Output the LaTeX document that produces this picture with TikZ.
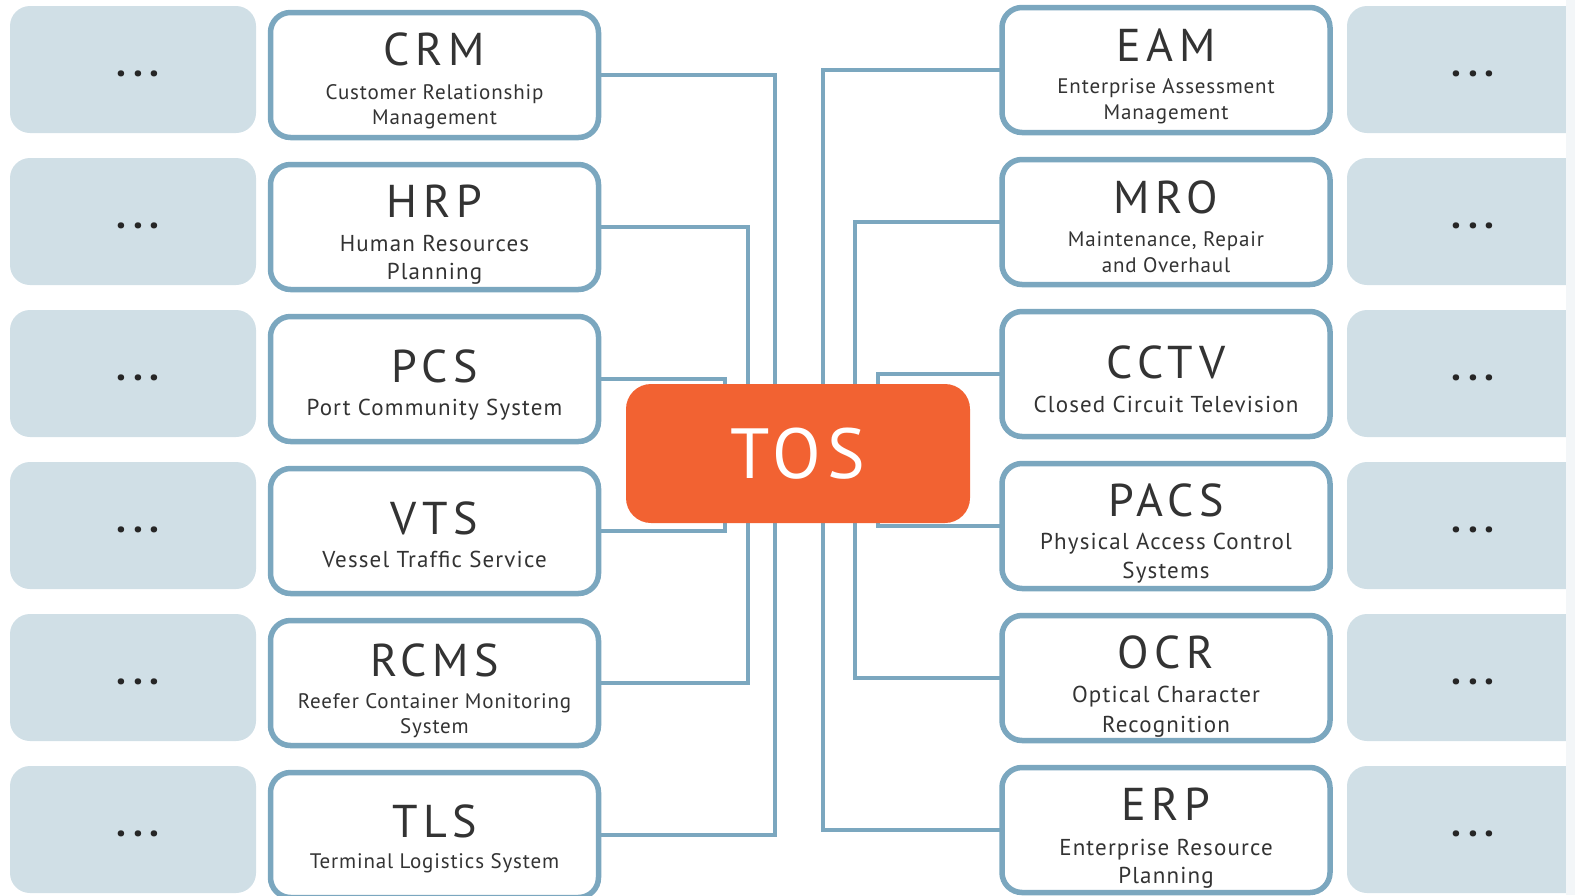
\documentclass[tikz,border=0pt]{standalone}
\usepackage{fontspec}
\setmainfont{PT Sans}
\newfontfamily\titlefont[LetterSpace=12]{PT Sans}
\newfontfamily\tosfont[LetterSpace=9]{PT Sans}
\newfontfamily\subsfont[LetterSpace=4]{PT Sans}
\newfontfamily\sublfont[LetterSpace=5]{PT Sans}
\usetikzlibrary{calc}
\definecolor{lineblue}{HTML}{7BA7BF}
\definecolor{graybox}{HTML}{D0DFE6}
\definecolor{tosorange}{HTML}{F26232}
\definecolor{txt}{HTML}{333333}
\definecolor{stripc}{HTML}{F3F6F8}
\begin{document}
\begin{tikzpicture}[x=1pt,y=-1pt,
 sysbox/.style={draw=lineblue, line width=5.5pt, fill=white, rounded corners=20pt, minimum width=328pt, minimum height=125pt, outer sep=0pt, inner sep=0pt},
 morebox/.style={fill=graybox, rounded corners=20pt, minimum width=246pt, minimum height=127pt, inner sep=0pt, outer sep=0pt},
 ttl/.style={anchor=base, text=txt, font=\titlefont\fontsize{46}{46}\selectfont, inner sep=0pt},
 subs/.style={anchor=base, text=txt, font=\subsfont\fontsize{21}{21}\selectfont, inner sep=0pt},
 subl/.style={anchor=base, text=txt, font=\sublfont\fontsize{23}{23}\selectfont, inner sep=0pt},
 dotsty/.style={anchor=base, text=black!85, font=\bfseries\fontsize{40}{40}\selectfont, inner sep=0pt},
 conn/.style={draw=lineblue, line width=4pt, line join=miter},
 tosbox/.style={fill=tosorange, rounded corners=25pt, minimum width=344pt, minimum height=139pt, inner sep=0pt, text=white, font=\tosfont\fontsize{71}{71}\selectfont},
 ]
\useasboundingbox (0,0) rectangle (1575,895);
\clip (0,0) rectangle (1575,895);
% gray "more" boxes
\foreach \k in {0,...,5}{
  \node[morebox] (gl\k) at (133,{69.5+152*\k}) {};
  \node[dotsty] (dl\k) at (138,{76+152*\k}) {.\hspace{7pt}.\hspace{7pt}.};
  \node[morebox] (gr\k) at (1470,{69.5+152*\k}) {};
  \node[dotsty] (dr\k) at (1473,{76+152*\k}) {.\hspace{7pt}.\hspace{7pt}.};
}
% left system boxes
\node[sysbox] (crm) at (434.5,75) {};
\node[sysbox] (hrp) at (434.5,227) {};
\node[sysbox] (pcs) at (434.5,379) {};
\node[sysbox] (vts) at (434.5,531) {};
\node[sysbox] (rcms) at (434.5,683) {};
\node[sysbox] (tls) at (434.5,835) {};
% right system boxes
\node[sysbox] (eam) at (1166,70) {};
\node[sysbox] (mro) at (1166,222) {};
\node[sysbox] (cctv) at (1166,374) {};
\node[sysbox] (pacs) at (1166,526) {};
\node[sysbox] (ocr) at (1166,678) {};
\node[sysbox] (erp) at (1166,830) {};
% texts left
\node[ttl] (crmT) at ($(crm.center)+(0,-10)$) {CRM};
\node[subs] (crmA) at ($(crm.center)+(0,24)$) {Customer Relationship};
\node[subs] (crmB) at ($(crm.center)+(0,49)$) {Management};
\node[ttl] (hrpT) at ($(hrp.center)+(0,-10)$) {HRP};
\node[subl] (hrpA) at ($(hrp.center)+(0,24)$) {Human Resources};
\node[subl] (hrpB) at ($(hrp.center)+(0,52)$) {Planning};
\node[ttl] (pcsT) at ($(pcs.center)+(0,3)$) {PCS};
\node[subl] (pcsA) at ($(pcs.center)+(0,36)$) {Port Community System};
\node[ttl] (vtsT) at ($(vts.center)+(0,3)$) {VTS};
\node[subl] (vtsA) at ($(vts.center)+(0,36)$) {Vessel Traffic Service};
\node[ttl] (rcmsT) at ($(rcms.center)+(0,-7)$) {RCMS};
\node[subs] (rcmsA) at ($(rcms.center)+(0,25)$) {Reefer Container Monitoring};
\node[subs] (rcmsB) at ($(rcms.center)+(0,50)$) {System};
\node[ttl] (tlsT) at ($(tls.center)+(0,2)$) {TLS};
\node[subs] (tlsA) at ($(tls.center)+(0,33)$) {Terminal Logistics System};
% texts right
\node[ttl] (eamT) at ($(eam.center)+(0,-9)$) {EAM};
\node[subs] (eamA) at ($(eam.center)+(0,23)$) {Enterprise Assessment};
\node[subs] (eamB) at ($(eam.center)+(0,49)$) {Management};
\node[ttl] (mroT) at ($(mro.center)+(0,-9)$) {MRO};
\node[subs] (mroA) at ($(mro.center)+(0,24)$) {Maintenance, Repair};
\node[subs] (mroB) at ($(mro.center)+(0,50)$) {and Overhaul};
\node[ttl] (cctvT) at ($(cctv.center)+(0,4)$) {CCTV};
\node[subl] (cctvA) at ($(cctv.center)+(0,38)$) {Closed Circuit Television};
\node[ttl] (pacsT) at ($(pacs.center)+(0,-10)$) {PACS};
\node[subl] (pacsA) at ($(pacs.center)+(0,23)$) {Physical Access Control};
\node[subl] (pacsB) at ($(pacs.center)+(0,52)$) {Systems};
\node[ttl] (ocrT) at ($(ocr.center)+(0,-10)$) {OCR};
\node[subl] (ocrA) at ($(ocr.center)+(0,24)$) {Optical Character};
\node[subl] (ocrB) at ($(ocr.center)+(0,54)$) {Recognition};
\node[ttl] (erpT) at ($(erp.center)+(0,-10)$) {ERP};
\node[subl] (erpA) at ($(erp.center)+(0,25)$) {Enterprise Resource};
\node[subl] (erpB) at ($(erp.center)+(0,53)$) {Planning};
% bracket x positions
\coordinate (b1) at (775,0);
\coordinate (b2) at (748,0);
\coordinate (b3) at (725,0);
\coordinate (b4) at (823,0);
\coordinate (b5) at (855,0);
\coordinate (b6) at (878,0);
% connectors
\draw[conn] (crm.east) -- (crm.east -| b1) -- (tls.east -| b1) -- (tls.east);
\draw[conn] (hrp.east) -- (hrp.east -| b2) -- (rcms.east -| b2) -- (rcms.east);
\draw[conn] (pcs.east) -- (pcs.east -| b3) -- (vts.east -| b3) -- (vts.east);
\draw[conn] (eam.west) -- (eam.west -| b4) -- (erp.west -| b4) -- (erp.west);
\draw[conn] (mro.west) -- (mro.west -| b5) -- (ocr.west -| b5) -- (ocr.west);
\draw[conn] (cctv.west) -- (cctv.west -| b6) -- (pacs.west -| b6) -- (pacs.west);
% central TOS
\node[tosbox] (tos) at (798,453.5) {TOS};
% light strip at right edge
\fill[stripc] (1566,0) rectangle (1575,895);
\end{tikzpicture}
\end{document}
